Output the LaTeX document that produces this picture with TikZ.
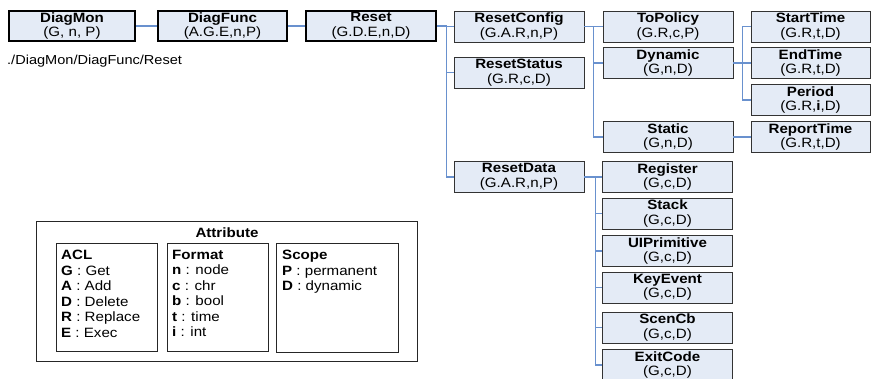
\documentclass[tikz,border=0pt]{standalone}
\usepackage{fontspec}
\setmainfont{Liberation Sans}[FakeStretch=1.12]
\definecolor{boxfill}{RGB}{228,235,246}
\definecolor{linkblue}{RGB}{105,145,206}
\begin{document}
\begin{tikzpicture}[x=1pt,y=-1pt,
    obj/.style={draw=black!80,fill=boxfill,line width=0.9pt,minimum width=130pt,
      minimum height=31pt,inner sep=0pt,align=center,font=\fontsize{13.5}{14.5}\selectfont},
    root/.style={obj,draw=black,line width=2.6pt,minimum height=30pt},
    link/.style={draw=linkblue,line width=1.3pt},
    legbox/.style={draw=black!85,line width=0.9pt,anchor=north west,inner sep=0pt},
    legtxt/.style={anchor=north west,align=left,inner sep=0pt,font=\fontsize{13.5}{15.5}\selectfont}]
  \useasboundingbox (0,0) rectangle (872,379);
  % --- main chain ---
  \node[root,minimum width=126pt] (diagmon)  at (72,26)    {\textbf{DiagMon}\\(G, n, P)};
  \node[root,minimum width=129pt] (diagfunc) at (222.5,26) {\textbf{DiagFunc}\\(A.G.E,n,P)};
  \node[root,minimum width=130pt] (reset)    at (371,26)   {\textbf{Reset}\\(G.D.E,n,D)};
  \node[anchor=west,inner sep=0pt,font=\fontsize{13}{14}\selectfont] (path) at (7,61) {./DiagMon/DiagFunc/Reset};
  % --- children of Reset ---
  \node[obj] (rconfig) at (519,26.5) {\textbf{ResetConfig}\\(G.A.R,n,P)};
  \node[obj] (rstatus) at (519,72.5) {\textbf{ResetStatus}\\(G.R,c,D)};
  \node[obj] (rdata)   at (519,177)  {\textbf{ResetData}\\(G.A.R,n,P)};
  % --- config branch ---
  \node[obj] (topolicy) at (668,26.5) {\textbf{ToPolicy}\\(G.R,c,P)};
  \node[obj] (dynamic)  at (668,63)   {\textbf{Dynamic}\\(G,n,D)};
  \node[obj] (static)   at (668,137)  {\textbf{Static}\\(G,n,D)};
  \node[obj,minimum width=119pt] (starttime)  at (810.5,26.5) {\textbf{StartTime}\\(G.R,t,D)};
  \node[obj,minimum width=119pt] (endtime)    at (810.5,63)   {\textbf{EndTime}\\(G.R,t,D)};
  \node[obj,minimum width=119pt] (period)     at (810.5,100)  {\textbf{Period}\\(G.R,\textbf{i},D)};
  \node[obj,minimum width=119pt] (reporttime) at (810.5,137)  {\textbf{ReportTime}\\(G.R,t,D)};
  % --- data branch ---
  \node[obj] (register) at (667.5,177)   {\textbf{Register}\\(G,c,D)};
  \node[obj] (stack)    at (667.5,213.5) {\textbf{Stack}\\(G,c,D)};
  \node[obj] (uiprim)   at (667.5,251)   {\textbf{UIPrimitive}\\(G,c,D)};
  \node[obj] (keyevent) at (667.5,287.5) {\textbf{KeyEvent}\\(G,c,D)};
  \node[obj] (scencb)   at (667.5,327.5) {\textbf{ScenCb}\\(G,c,D)};
  \node[obj] (exitcode) at (667.5,365)   {\textbf{ExitCode}\\(G,c,D)};
  % --- connectors ---
  \draw[link] (diagmon.east) -- (diagfunc.west);
  \draw[link] (diagfunc.east) -- (reset.west);
  \foreach \c in {rconfig,rstatus,rdata} \draw[link] (reset.east) -- ++(9,0) |- (\c.west);
  \foreach \c in {topolicy,dynamic,static} \draw[link] (rconfig.east) -- ++(9,0) |- (\c.west);
  \foreach \c in {starttime,endtime,period} \draw[link] (dynamic.east) -- ++(9,0) |- (\c.west);
  \draw[link] (static.east) -- (reporttime.west);
  \foreach \c in {register,stack,uiprim,keyevent,scencb,exitcode} \draw[link] (rdata.east) -- ++(11,0) |- (\c.west);
  % --- legend ---
  \node[legbox,minimum width=381pt,minimum height=140pt] (attr) at (36,221) {};
  \node[inner sep=0pt,font=\bfseries\fontsize{13.5}{15.5}\selectfont] (attrtitle) at (227,233) {Attribute};
  \node[legbox,minimum width=101pt,minimum height=108pt] (acl)   at (56,243)  {};
  \node[legbox,minimum width=101pt,minimum height=108pt] (fmt)   at (167,243) {};
  \node[legbox,minimum width=122pt,minimum height=109pt] (scope) at (276,243) {};
  \node[legtxt] (acltxt) at (61,250) {\textbf{ACL}\\\textbf{G} : Get\\\textbf{A} : Add\\\textbf{D} : Delete\\\textbf{R} : Replace\\\textbf{E} : Exec};
  \node[legtxt] (fmttxt) at (172,250) {\textbf{Format}\\\textbf{n} : node\\\textbf{c} : chr\\\textbf{b} : bool\\\textbf{t} : time\\\textbf{i} : int};
  \node[legtxt] (scopetxt) at (282,250) {\textbf{Scope}\\\textbf{P} : permanent\\\textbf{D} : dynamic};
\end{tikzpicture}
\end{document}
